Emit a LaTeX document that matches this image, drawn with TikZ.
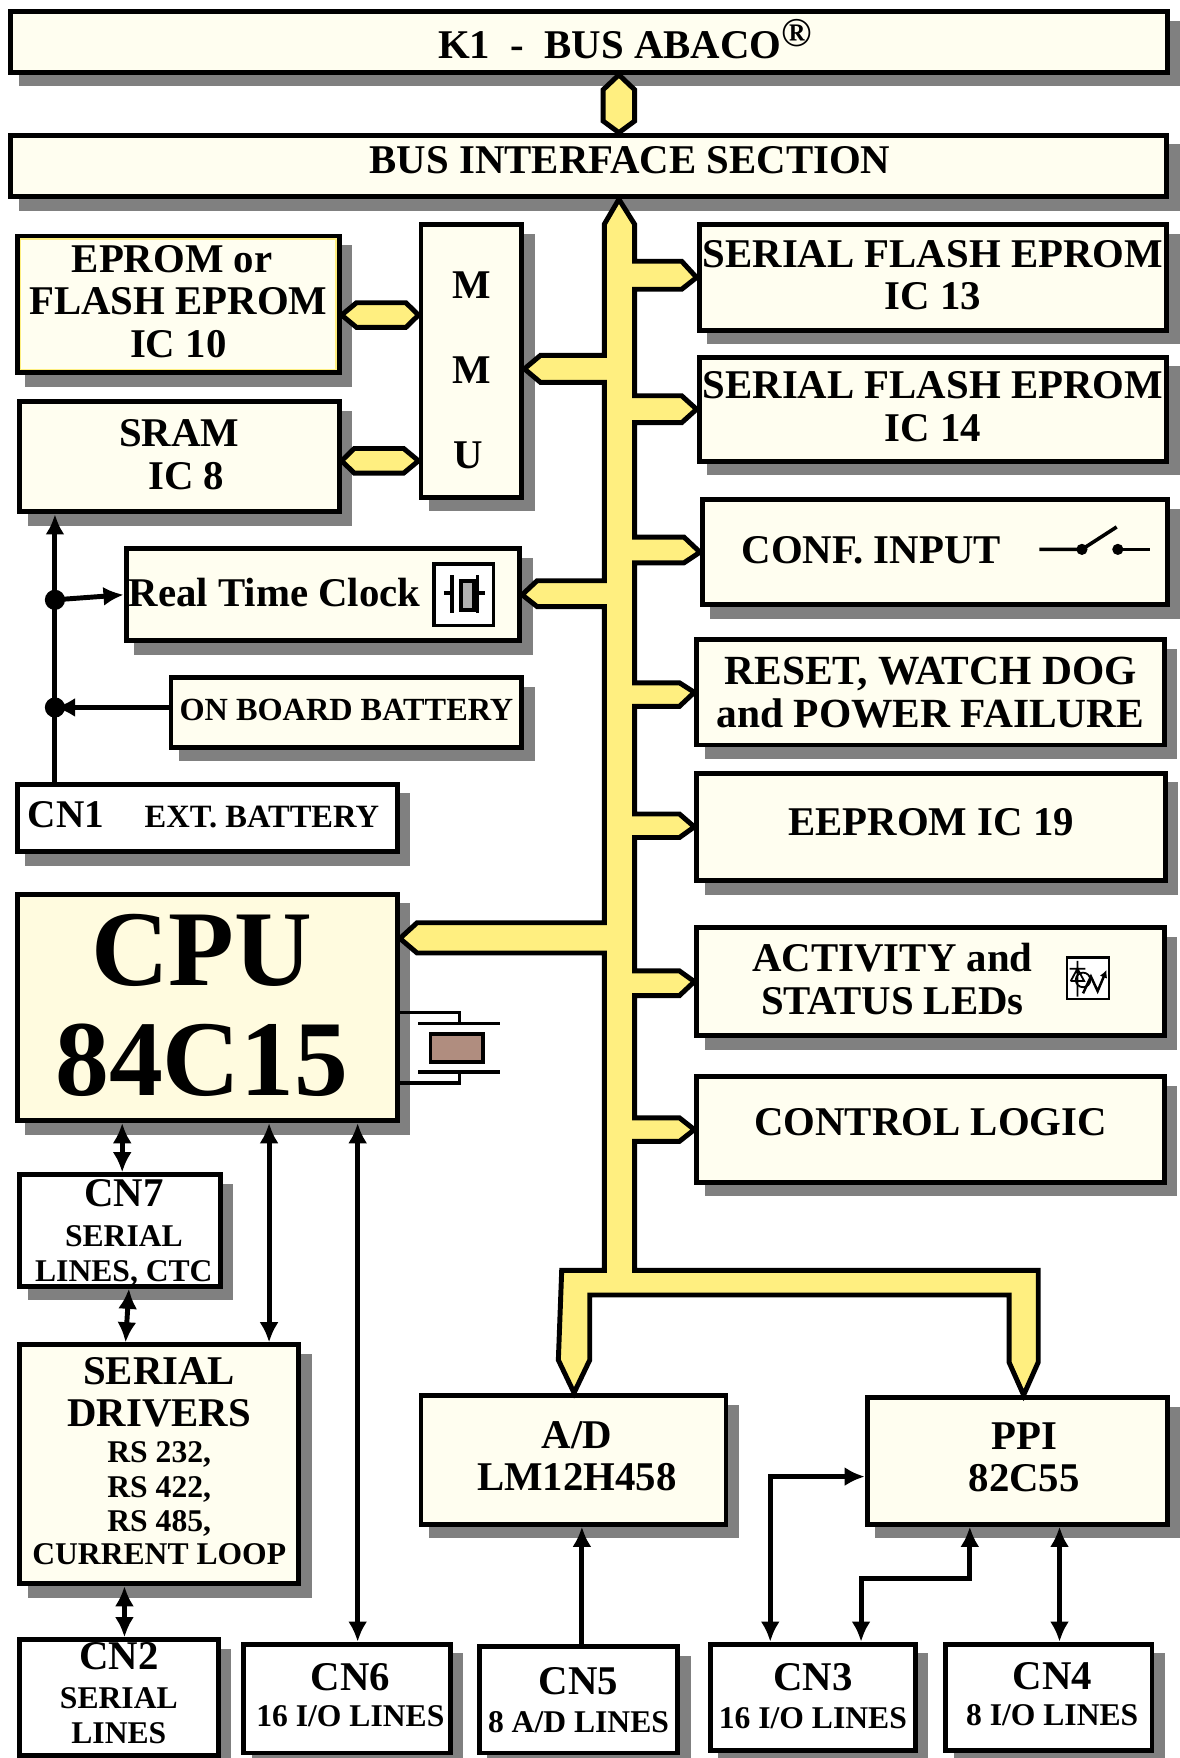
\documentclass[tikz,border=0pt]{standalone}
\usepackage{fontspec}
\setmainfont{Liberation Serif}
\usetikzlibrary{shadows,arrows.meta}

\definecolor{boxfill}{HTML}{FFFEF0}
\definecolor{cpufill}{HTML}{FFFBDF}
\definecolor{busyellow}{HTML}{FFEF80}
\definecolor{shadowgray}{HTML}{808080}
\definecolor{quartz}{HTML}{B08D7F}

\newcommand{\cnfont}{\fontsize{14.1}{15.4}\selectfont}
\newcommand{\lift}[1]{\rule[-#1]{0pt}{#1}}
\newcommand{\sink}[1]{\rule{0pt}{#1}}

\tikzset{
    blockbox/.style={draw=black, line width=2.2pt, fill=boxfill, rectangle, inner sep=0pt, align=center,
        font=\bfseries\fontsize{18.2}{19}\selectfont,
        drop shadow={shadow xshift=4.7pt, shadow yshift=-5.2pt, fill=shadowgray, draw=shadowgray, opacity=1}},
    connbox/.style={blockbox, fill=white},
    boxsize/.style 2 args={minimum width=(#1+3)*0.5pt, minimum height=(#2+3)*0.5pt},
    busline/.style={draw=black, line width=2.2pt, fill=busyellow, line join=miter},
    wire/.style={draw=black, line width=2.2pt},
    both/.style={wire, {Latex[length=9pt,width=8.5pt]}-{Latex[length=9pt,width=8.5pt]}},
    toend/.style={wire, -{Latex[length=9pt,width=8.5pt]}},
    junction/.style={circle, fill=black, inner sep=0pt, minimum width=8pt, minimum height=9pt},
    symbol/.style={draw=black, line width=1.6pt}
}

\begin{document}
\begin{tikzpicture}[x=0.5pt, y=-0.5pt]
    \useasboundingbox (0,0) rectangle (1052,1568);

    % top of the board
    \node[blockbox, boxsize={1029}{51}, text depth=3pt] (kbus) at (525.5,37.5) {\hspace*{32pt}K1\ \ -\ \ BUS ABACO\raisebox{5.5pt}{®}};
    \node[blockbox, boxsize={1028}{52}, text depth=5.2pt] (interface) at (525,148) {\hspace*{37pt}BUS INTERFACE SECTION};

    % memories
    \node[blockbox, boxsize={284}{119},
        path picture={\draw[busyellow, line width=3.6pt] (path picture bounding box.north west) rectangle (path picture bounding box.south east);}]
        (eprom) at (159,271.5) {EPROM or\hspace*{5.5pt}\\FLASH EPROM\\IC 10\lift{2.8pt}};
    \node[blockbox, boxsize={87}{240}] (mmu) at (420.5,322) {\sink{20pt}M\\[19pt]M\\[19pt]U\hspace*{3pt}};
    \node[blockbox, boxsize={282}{95}] (sram) at (160,407.5) {SRAM\\\hspace*{6pt}IC 8\lift{2.3pt}};

    % peripherals on the right
    \node[blockbox, boxsize={414}{91}] (flasha) at (832,247.5) {SERIAL FLASH EPROM\\IC 13\lift{2.3pt}};
    \node[blockbox, boxsize={414}{90}] (flashb) at (832,365) {SERIAL FLASH EPROM\\IC 14\lift{2.3pt}};
    \node[blockbox, boxsize={412}{91}, text depth=2pt] (conf) at (834,492.5) {CONF. INPUT\hspace*{57pt}};
    \node[blockbox, boxsize={414}{91}, font=\bfseries\fontsize{18.5}{19}\selectfont] (reset) at (830,617.5) {RESET, WATCH DOG\\and POWER FAILURE};
    \node[blockbox, boxsize={415}{93}, text depth=4pt] (eeprom) at (830.5,737.5) {EEPROM IC 19};
    \node[blockbox, boxsize={414}{93}] (activity) at (830,875.5) {ACTIVITY and\hspace*{34pt}\\STATUS LEDs\hspace*{34pt}\lift{2.3pt}};
    \node[blockbox, boxsize={414}{91}, text depth=7pt] (control) at (830,1007.5) {CONTROL LOGIC};

    % clock and battery
    \node[blockbox, boxsize={348}{79}, text depth=2.2pt] (rtc) at (288,530.5) {Real Time Clock\hspace*{43pt}};
    \node[blockbox, boxsize={310}{59}, text depth=2.2pt, font=\bfseries\fontsize{14.4}{16}\selectfont] (battery) at (309,635.5) {ON BOARD BATTERY};
    \node[connbox, boxsize={336}{57}, text depth=3.2pt, font=\bfseries\fontsize{14.5}{16}\selectfont] (cn1) at (185,729.5) {{\fontsize{17.5}{19}\selectfont CN1}\hspace*{18pt}EXT. BATTERY\hspace*{3.5pt}};

    % cpu
    \node[blockbox, boxsize={336}{199}, fill=cpufill, font=\bfseries\fontsize{48}{49}\selectfont] (cpu) at (185,898.5) {CPU\hspace*{5pt}\\84C15\hspace*{5pt}\lift{2pt}};

    % left column
    \node[connbox, boxsize={176}{93}] (cn7) at (107,1097.5) {\sink{14pt}\hspace*{3.5pt}CN7\\[-1pt]\hspace*{3.5pt}\cnfont SERIAL\\[-3.5pt]\hspace*{3.5pt}\cnfont LINES, CTC};
    \node[blockbox, boxsize={246}{210}] (serial) at (142,1306) {SERIAL\\DRIVERS\\[-3pt]\cnfont RS 232,\\[-3.5pt]\cnfont RS 422,\\[-4pt]\cnfont RS 485,\\[-4pt]\cnfont CURRENT LOOP\lift{3pt}};
    \node[connbox, boxsize={174}{100}] (cn2) at (106,1514) {CN2\\[-1.5pt]\cnfont SERIAL\\[-3.5pt]\cnfont LINES\lift{4pt}};

    % bottom row
    \node[connbox, boxsize={181}{94}] (cn6) at (309.5,1515) {\hspace*{3pt}CN6\\[-3pt]\hspace*{3pt}\cnfont 16 I/O LINES\lift{3pt}};
    \node[connbox, boxsize={174}{92}] (cn5) at (516,1516) {CN5\\[-2pt]\cnfont 8 A/D LINES};
    \node[connbox, boxsize={180}{92}] (cn3) at (725,1514) {CN3\\[-2pt]\cnfont 16 I/O LINES\lift{1.5pt}};
    \node[connbox, boxsize={181}{92}] (cn4) at (935.5,1514) {\hspace*{3pt}CN4\\[-3pt]\hspace*{3pt}\cnfont 8 I/O LINES\lift{3pt}};
    \node[blockbox, boxsize={269}{112}] (adc) at (511.5,1302) {\hspace*{3pt}A/D\\\hspace*{3pt}LM12H458\lift{3.3pt}};
    \node[blockbox, boxsize={265}{110}] (ppi) at (907.5,1303) {\hspace*{6pt}PPI\\\hspace*{6pt}82C55\lift{3.3pt}};

    % battery lines
    \node[junction] (jrtc) at (49,535) {};
    \node[junction] (jbat) at (49,631) {};
    \draw[toend] (cn1.north -| jbat) -- (jbat.center) -- (jrtc.center) -- (sram.south -| jrtc);
    \draw[toend] (jrtc.center) -- (rtc.west);
    \draw[toend] (battery.west |- jbat) -- (jbat.center);

    % small bus links
    \draw[busline] (kbus.south -| 552,0) -- (566,80) -- (566,108) -- (interface.north -| 552,0) -- (538,108) -- (538,80) -- cycle;
    \draw[busline] (eprom.east |- 0,281) -- (318,270) -- (362,270) -- (mmu.west |- 0,281) -- (362,292) -- (318,292) -- cycle;
    \draw[busline] (sram.east |- 0,411) -- (316,400) -- (360,400) -- (mmu.west |- 0,411) -- (360,422) -- (316,422) -- cycle;

    % main bus
    \draw[busline] (interface.south -| 552,0) -- (566,200) -- (566,233) -- (608,233) -- (flasha.west) -- (608,258)
        -- (566,258) -- (566,353) -- (608,353) -- (flashb.west) -- (608,377)
        -- (566,377) -- (566,479) -- (610,479) -- (conf.west) -- (610,502)
        -- (566,502) -- (566,609) -- (606,609) -- (reset.west) -- (606,630)
        -- (566,630) -- (566,726) -- (606,726) -- (eeprom.west) -- (606,747)
        -- (566,747) -- (566,866) -- (606,866) -- (activity.west) -- (606,888)
        -- (566,888) -- (566,997) -- (606,997) -- (control.west) -- (606,1018)
        -- (566,1018) -- (566,1133) -- (926,1133) -- (926,1215) -- (ppi.north -| 913,0) -- (900,1215)
        -- (900,1155) -- (526,1155) -- (526,1213) -- (adc.north -| 512,0) -- (498,1213)
        -- (501,1133) -- (539,1133) -- (539,850) -- (372,850) -- (cpu.east |- 0,837) -- (372,823)
        -- (539,823) -- (539,541) -- (479,541) -- (rtc.east) -- (479,518)
        -- (539,518) -- (539,341) -- (482,341) -- (mmu.east |- 0,329) -- (482,317)
        -- (539,317) -- (539,200) -- cycle;

    % serial lines and i/o lines
    \draw[both] (109,0 |- cpu.south) -- (109,0 |- cn7.north);
    \draw[both] (115,0 |- cn7.south) -- (112,0 |- serial.north);
    \draw[both] (240,0 |- cpu.south) -- (240,0 |- serial.north);
    \draw[both] (111,0 |- serial.south) -- (111,0 |- cn2.north);
    \draw[both] (319,0 |- cpu.south) -- (319,0 |- cn6.north);
    \draw[toend] (519,0 |- cn5.north) -- (519,0 |- adc.south);
    \draw[both] (687,0 |- cn3.north) |- (ppi.west |- 0,1317);
    \draw[both] (768,0 |- cn3.north) -- (768,1408) -- (865,1408) -- (865,0 |- ppi.south);
    \draw[both] (945,0 |- cn4.north) -- (945,0 |- ppi.south);

    % quartz of the real time clock
    \draw[symbol, fill=white] (387,503) rectangle (440,558);
    \draw[symbol] (396,529) -- (403,529) (403,513) -- (403,547) (426,513) -- (426,547) (426,529) -- (433,529);
    \draw[symbol, fill=gray!60] (411,518) rectangle (423,544);

    % quartz of the cpu
    \draw[symbol] (cpu.east |- 0,903) -- (410,903) -- (410,913) (373,913) -- (446,913);
    \draw[symbol, fill=quartz] (384,922) rectangle (431,947);
    \draw[symbol] (373,956) -- (446,956) (410,956) -- (410,966) -- (cpu.east |- 0,966);

    % switch
    \draw[symbol] (927,490) -- (965,490) -- (996,470);
    \draw[symbol] (997,490) -- (1026,490);
    \fill (965,490) circle (2.5pt);
    \fill (997,490) circle (2.5pt);

    % led
    \draw[line width=0.9pt, fill=white] (952,854) rectangle (989,891);
    \draw[line width=0.8pt] (961,857) -- (961,889) (955,875) -- (967,875) -- (961,864) -- (955,875) (954,864) -- (968,864);
    \draw[line width=0.8pt] (966,874) circle (6.5);
    \draw[line width=1.1pt, -{Latex[length=3.5pt,width=3.5pt]}] (966,886) -- (973,871) -- (979,884) -- (987,865);
\end{tikzpicture}
\end{document}
